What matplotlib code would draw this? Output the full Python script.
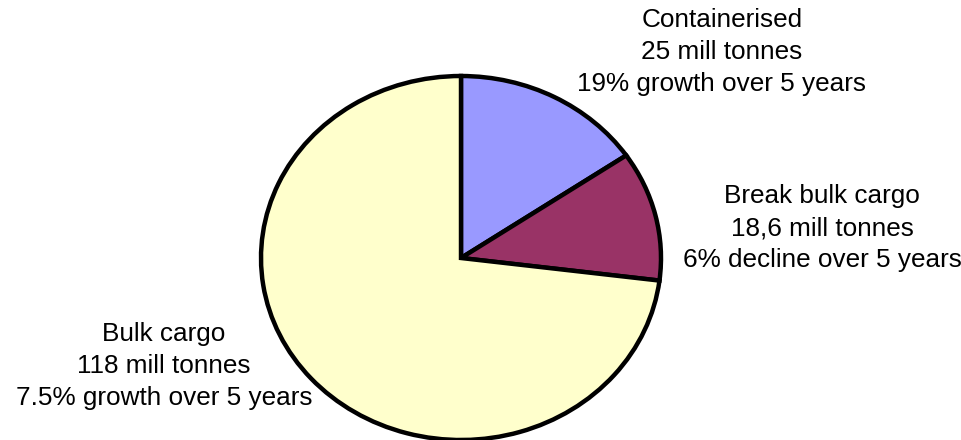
import matplotlib
matplotlib.use("Agg")
import matplotlib.pyplot as plt

plt.rcParams["font.family"] = ["Liberation Sans", "DejaVu Sans"]

categories = ["Containerised", "Break bulk cargo", "Bulk cargo"]
tonnes = [25, 18.6, 118]
tonnes_text = ["25", "18,6", "118"]
change_text = ["19% growth", "6% decline", "7.5% growth"]
colors = ["#9999FF", "#993366", "#FFFFCC"]

# label centres in figure pixels (x, y from top)
label_pos = [(722, 52), (822, 228), (164, 366)]

W, H = 962, 440
fig = plt.figure(figsize=(W / 100, H / 100), dpi=100)

# pie is drawn as an ellipse: rx ~200 px, ry ~182 px, centre (461, 258)
cx, cy, rx, ry = 461, 258, 200, 182
pad = 1.1
ax = fig.add_axes([(cx - rx * pad) / W, (H - cy - ry * pad) / H,
                   2 * rx * pad / W, 2 * ry * pad / H])
ax.pie(tonnes, colors=colors, startangle=90, counterclock=False,
       wedgeprops=dict(edgecolor="black", linewidth=3.2, joinstyle="miter"))
ax.set_aspect("auto")
ax.set_xlim(-pad, pad)
ax.set_ylim(-pad, pad)
ax.axis("off")

for name, t, ch, (px, py) in zip(categories, tonnes_text, change_text, label_pos):
    fig.text(px / W, 1 - py / H, f"{name}\n{t} mill tonnes\n{ch} over 5 years",
             ha="center", va="center", fontsize=18.8, linespacing=1.4,
             color="black")

fig.savefig("out.png", dpi=100)
